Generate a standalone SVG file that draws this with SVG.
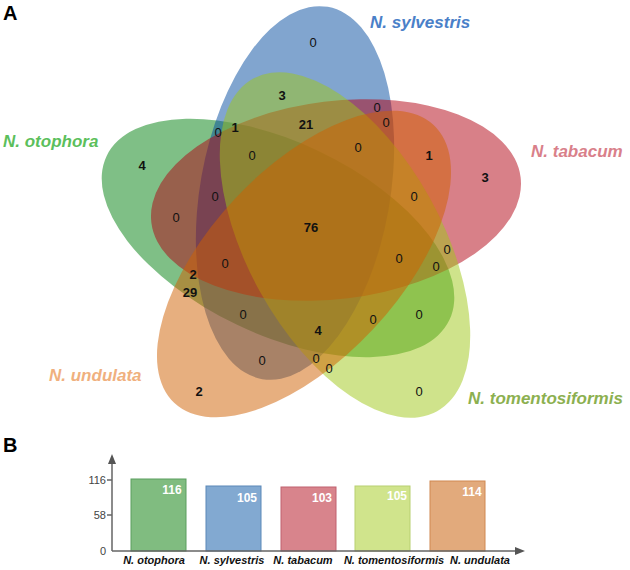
<svg xmlns="http://www.w3.org/2000/svg" width="630" height="570" viewBox="0 0 630 570">
<style>
.set{opacity:0.5}
.lbl{font-family:"Liberation Sans",Arial,sans-serif;font-weight:bold;font-style:italic;font-size:17px}
.n{font-family:"Liberation Sans",Arial,sans-serif;font-size:13px;fill:#111;text-anchor:middle}
.b{font-weight:bold}
.pl{font-family:"Liberation Sans",Arial,sans-serif;font-weight:bold;font-size:20px;fill:#000}
.tick{font-family:"Liberation Sans",Arial,sans-serif;font-size:11px;fill:#444;text-anchor:end}
.bv{font-family:"Liberation Sans",Arial,sans-serif;font-size:12px;fill:#fff;text-anchor:middle;font-weight:bold}
.bl{font-family:"Liberation Sans",Arial,sans-serif;font-size:11px;fill:#111;text-anchor:middle;font-weight:bold;font-style:italic}
.ax{stroke:#666;stroke-width:1.5;fill:none}
</style>
<rect width="630" height="570" fill="#fff"/>
<text class="pl" x="3" y="20">A</text>
<g id="venn">
<ellipse id="otophora" class="set" cx="278" cy="238" rx="190" ry="96" transform="rotate(25.6 278 238)" fill="#00800d"/>
<ellipse id="sylvestris" class="set" cx="295" cy="193" rx="95" ry="189" transform="rotate(10 295 193)" fill="#034ca0"/>
<ellipse id="tabacum" class="set" cx="336" cy="200" rx="186" ry="99" transform="rotate(-7 336 200)" fill="#b10111"/>
<ellipse id="tomentosiformis" class="set" cx="345" cy="245" rx="190" ry="97" transform="rotate(61 345 245)" fill="#9fc717"/>
<ellipse id="undulata" class="set" cx="304" cy="264" rx="190" ry="95" transform="rotate(-47 304 264)" fill="#d06000"/>
</g>
<g id="set-labels">
<text class="lbl" x="370" y="28" fill="#4a80c8" font-size="17.5">N. sylvestris</text>
<text class="lbl" x="3" y="147" fill="#5cbf5c">N. otophora</text>
<text class="lbl" x="531" y="157" fill="#d9808a" font-size="17.5">N. tabacum</text>
<text class="lbl" x="49" y="381" fill="#f0b07e">N. undulata</text>
<text class="lbl" x="468" y="404" fill="#8cb050">N. tomentosiformis</text>
</g>
<g id="counts">
<text class="n" x="313" y="47">0</text>
<text class="n b" x="282" y="100">3</text>
<text class="n" x="218" y="137">0</text>
<text class="n b" x="235" y="132">1</text>
<text class="n b" x="306" y="129">21</text>
<text class="n" x="252" y="160">0</text>
<text class="n b" x="142" y="170">4</text>
<text class="n" x="215" y="201">0</text>
<text class="n" x="377" y="112">0</text>
<text class="n" x="386" y="127">0</text>
<text class="n" x="358" y="152">0</text>
<text class="n b" x="429" y="160">1</text>
<text class="n b" x="485" y="182">3</text>
<text class="n" x="414" y="201">0</text>
<text class="n" x="176" y="222">0</text>
<text class="n b" x="311" y="232">76</text>
<text class="n" x="225" y="268">0</text>
<text class="n b" x="193" y="279">2</text>
<text class="n b" x="190" y="297">29</text>
<text class="n" x="243" y="319">0</text>
<text class="n" x="262" y="365">0</text>
<text class="n b" x="199" y="396">2</text>
<text class="n b" x="318" y="335">4</text>
<text class="n" x="316" y="363">0</text>
<text class="n" x="329" y="373">0</text>
<text class="n" x="399" y="263">0</text>
<text class="n" x="447" y="254">0</text>
<text class="n" x="436" y="271">0</text>
<text class="n" x="373" y="324">0</text>
<text class="n" x="419" y="319">0</text>
<text class="n" x="419" y="396">0</text>
</g>
<text class="pl" x="3" y="452">B</text>
<g id="chart">
<rect x="131" y="479" width="55" height="72" fill="#80bc80" stroke="#5a9e5e"/>
<rect x="206" y="486" width="55" height="65" fill="#82a9d1" stroke="#5a88b8"/>
<rect x="281" y="487" width="55" height="64" fill="#d8848c" stroke="#c0606e"/>
<rect x="355" y="486" width="55" height="65" fill="#d0e48c" stroke="#b8d070"/>
<rect x="430" y="481" width="55" height="70" fill="#e2aa7c" stroke="#d08850"/>
<text class="bv" x="172" y="494">116</text>
<text class="bv" x="247" y="502">105</text>
<text class="bv" x="322" y="502">103</text>
<text class="bv" x="397" y="500">105</text>
<text class="bv" x="472" y="496">114</text>
<path class="ax" d="M112 551 V462 M112 551 H517 M107 480 H112 M107 515 H112"/>
<polygon points="112,454 108,464 116,464" fill="#555"/>
<polygon points="525,551 515,547 515,555" fill="#555"/>
<text class="tick" x="106" y="484">116</text>
<text class="tick" x="106" y="519">58</text>
<text class="tick" x="106" y="555">0</text>
<text class="bl" x="154" y="564">N. otophora</text>
<text class="bl" x="232" y="564">N. sylvestris</text>
<text class="bl" x="303" y="564">N. tabacum</text>
<text class="bl" x="394" y="564">N. tomentosiformis</text>
<text class="bl" x="480" y="564">N. undulata</text>
</g>
</svg>
